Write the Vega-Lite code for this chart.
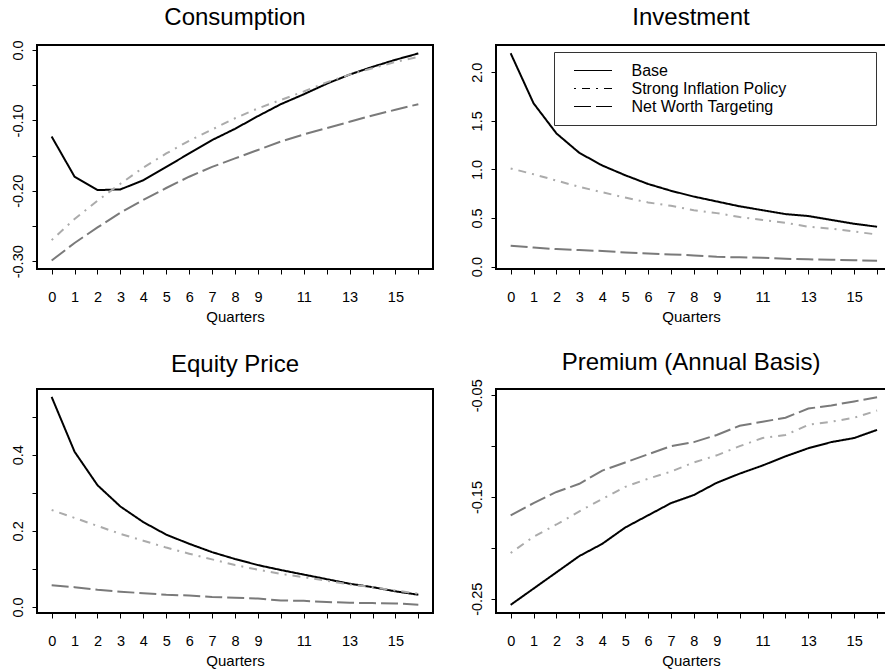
{
  "$schema": "https://vega.github.io/schema/vega-lite/v6.json",
  "padding": {"left": 8, "top": 5, "right": 0, "bottom": 0},
  "background": "white",
  "datasets": {
    "consumption": [
      {"q":0,"s":"Base","v":-0.123},{"q":1,"s":"Base","v":-0.180},{"q":2,"s":"Base","v":-0.199},{"q":3,"s":"Base","v":-0.198},{"q":4,"s":"Base","v":-0.185},{"q":5,"s":"Base","v":-0.166},{"q":6,"s":"Base","v":-0.147},{"q":7,"s":"Base","v":-0.128},{"q":8,"s":"Base","v":-0.112},{"q":9,"s":"Base","v":-0.094},{"q":10,"s":"Base","v":-0.077},{"q":11,"s":"Base","v":-0.063},{"q":12,"s":"Base","v":-0.048},{"q":13,"s":"Base","v":-0.035},{"q":14,"s":"Base","v":-0.024},{"q":15,"s":"Base","v":-0.014},{"q":16,"s":"Base","v":-0.005},
      {"q":0,"s":"Strong Inflation Policy","v":-0.270},{"q":1,"s":"Strong Inflation Policy","v":-0.240},{"q":2,"s":"Strong Inflation Policy","v":-0.214},{"q":3,"s":"Strong Inflation Policy","v":-0.190},{"q":4,"s":"Strong Inflation Policy","v":-0.167},{"q":5,"s":"Strong Inflation Policy","v":-0.147},{"q":6,"s":"Strong Inflation Policy","v":-0.129},{"q":7,"s":"Strong Inflation Policy","v":-0.113},{"q":8,"s":"Strong Inflation Policy","v":-0.097},{"q":9,"s":"Strong Inflation Policy","v":-0.083},{"q":10,"s":"Strong Inflation Policy","v":-0.071},{"q":11,"s":"Strong Inflation Policy","v":-0.059},{"q":12,"s":"Strong Inflation Policy","v":-0.046},{"q":13,"s":"Strong Inflation Policy","v":-0.035},{"q":14,"s":"Strong Inflation Policy","v":-0.026},{"q":15,"s":"Strong Inflation Policy","v":-0.017},{"q":16,"s":"Strong Inflation Policy","v":-0.010},
      {"q":0,"s":"Net Worth Targeting","v":-0.299},{"q":1,"s":"Net Worth Targeting","v":-0.274},{"q":2,"s":"Net Worth Targeting","v":-0.252},{"q":3,"s":"Net Worth Targeting","v":-0.231},{"q":4,"s":"Net Worth Targeting","v":-0.213},{"q":5,"s":"Net Worth Targeting","v":-0.196},{"q":6,"s":"Net Worth Targeting","v":-0.180},{"q":7,"s":"Net Worth Targeting","v":-0.166},{"q":8,"s":"Net Worth Targeting","v":-0.154},{"q":9,"s":"Net Worth Targeting","v":-0.142},{"q":10,"s":"Net Worth Targeting","v":-0.130},{"q":11,"s":"Net Worth Targeting","v":-0.120},{"q":12,"s":"Net Worth Targeting","v":-0.111},{"q":13,"s":"Net Worth Targeting","v":-0.102},{"q":14,"s":"Net Worth Targeting","v":-0.093},{"q":15,"s":"Net Worth Targeting","v":-0.085},{"q":16,"s":"Net Worth Targeting","v":-0.077}
    ],
    "investment": [
      {"q":0,"s":"Base","v":2.195},{"q":1,"s":"Base","v":1.68},{"q":2,"s":"Base","v":1.37},{"q":3,"s":"Base","v":1.17},{"q":4,"s":"Base","v":1.04},{"q":5,"s":"Base","v":0.94},{"q":6,"s":"Base","v":0.85},{"q":7,"s":"Base","v":0.78},{"q":8,"s":"Base","v":0.72},{"q":9,"s":"Base","v":0.67},{"q":10,"s":"Base","v":0.62},{"q":11,"s":"Base","v":0.58},{"q":12,"s":"Base","v":0.54},{"q":13,"s":"Base","v":0.52},{"q":14,"s":"Base","v":0.48},{"q":15,"s":"Base","v":0.44},{"q":16,"s":"Base","v":0.41},
      {"q":0,"s":"Strong Inflation Policy","v":1.01},{"q":1,"s":"Strong Inflation Policy","v":0.95},{"q":2,"s":"Strong Inflation Policy","v":0.885},{"q":3,"s":"Strong Inflation Policy","v":0.82},{"q":4,"s":"Strong Inflation Policy","v":0.765},{"q":5,"s":"Strong Inflation Policy","v":0.71},{"q":6,"s":"Strong Inflation Policy","v":0.66},{"q":7,"s":"Strong Inflation Policy","v":0.625},{"q":8,"s":"Strong Inflation Policy","v":0.58},{"q":9,"s":"Strong Inflation Policy","v":0.55},{"q":10,"s":"Strong Inflation Policy","v":0.51},{"q":11,"s":"Strong Inflation Policy","v":0.48},{"q":12,"s":"Strong Inflation Policy","v":0.45},{"q":13,"s":"Strong Inflation Policy","v":0.41},{"q":14,"s":"Strong Inflation Policy","v":0.39},{"q":15,"s":"Strong Inflation Policy","v":0.36},{"q":16,"s":"Strong Inflation Policy","v":0.33},
      {"q":0,"s":"Net Worth Targeting","v":0.215},{"q":1,"s":"Net Worth Targeting","v":0.195},{"q":2,"s":"Net Worth Targeting","v":0.18},{"q":3,"s":"Net Worth Targeting","v":0.17},{"q":4,"s":"Net Worth Targeting","v":0.16},{"q":5,"s":"Net Worth Targeting","v":0.145},{"q":6,"s":"Net Worth Targeting","v":0.135},{"q":7,"s":"Net Worth Targeting","v":0.125},{"q":8,"s":"Net Worth Targeting","v":0.115},{"q":9,"s":"Net Worth Targeting","v":0.10},{"q":10,"s":"Net Worth Targeting","v":0.095},{"q":11,"s":"Net Worth Targeting","v":0.09},{"q":12,"s":"Net Worth Targeting","v":0.08},{"q":13,"s":"Net Worth Targeting","v":0.075},{"q":14,"s":"Net Worth Targeting","v":0.07},{"q":15,"s":"Net Worth Targeting","v":0.065},{"q":16,"s":"Net Worth Targeting","v":0.06}
    ],
    "equity": [
      {"q":0,"s":"Base","v":0.552},{"q":1,"s":"Base","v":0.408},{"q":2,"s":"Base","v":0.32},{"q":3,"s":"Base","v":0.264},{"q":4,"s":"Base","v":0.223},{"q":5,"s":"Base","v":0.19},{"q":6,"s":"Base","v":0.166},{"q":7,"s":"Base","v":0.144},{"q":8,"s":"Base","v":0.126},{"q":9,"s":"Base","v":0.11},{"q":10,"s":"Base","v":0.097},{"q":11,"s":"Base","v":0.085},{"q":12,"s":"Base","v":0.073},{"q":13,"s":"Base","v":0.061},{"q":14,"s":"Base","v":0.052},{"q":15,"s":"Base","v":0.041},{"q":16,"s":"Base","v":0.032},
      {"q":0,"s":"Strong Inflation Policy","v":0.255},{"q":1,"s":"Strong Inflation Policy","v":0.234},{"q":2,"s":"Strong Inflation Policy","v":0.213},{"q":3,"s":"Strong Inflation Policy","v":0.192},{"q":4,"s":"Strong Inflation Policy","v":0.174},{"q":5,"s":"Strong Inflation Policy","v":0.156},{"q":6,"s":"Strong Inflation Policy","v":0.14},{"q":7,"s":"Strong Inflation Policy","v":0.125},{"q":8,"s":"Strong Inflation Policy","v":0.11},{"q":9,"s":"Strong Inflation Policy","v":0.098},{"q":10,"s":"Strong Inflation Policy","v":0.087},{"q":11,"s":"Strong Inflation Policy","v":0.078},{"q":12,"s":"Strong Inflation Policy","v":0.069},{"q":13,"s":"Strong Inflation Policy","v":0.059},{"q":14,"s":"Strong Inflation Policy","v":0.052},{"q":15,"s":"Strong Inflation Policy","v":0.043},{"q":16,"s":"Strong Inflation Policy","v":0.035},
      {"q":0,"s":"Net Worth Targeting","v":0.057},{"q":1,"s":"Net Worth Targeting","v":0.052},{"q":2,"s":"Net Worth Targeting","v":0.045},{"q":3,"s":"Net Worth Targeting","v":0.04},{"q":4,"s":"Net Worth Targeting","v":0.036},{"q":5,"s":"Net Worth Targeting","v":0.032},{"q":6,"s":"Net Worth Targeting","v":0.03},{"q":7,"s":"Net Worth Targeting","v":0.026},{"q":8,"s":"Net Worth Targeting","v":0.024},{"q":9,"s":"Net Worth Targeting","v":0.022},{"q":10,"s":"Net Worth Targeting","v":0.017},{"q":11,"s":"Net Worth Targeting","v":0.016},{"q":12,"s":"Net Worth Targeting","v":0.013},{"q":13,"s":"Net Worth Targeting","v":0.011},{"q":14,"s":"Net Worth Targeting","v":0.01},{"q":15,"s":"Net Worth Targeting","v":0.009},{"q":16,"s":"Net Worth Targeting","v":0.006}
    ],
    "premium": [
      {"q":0,"s":"Base","v":-0.256},{"q":1,"s":"Base","v":-0.240},{"q":2,"s":"Base","v":-0.224},{"q":3,"s":"Base","v":-0.208},{"q":4,"s":"Base","v":-0.196},{"q":5,"s":"Base","v":-0.180},{"q":6,"s":"Base","v":-0.168},{"q":7,"s":"Base","v":-0.156},{"q":8,"s":"Base","v":-0.148},{"q":9,"s":"Base","v":-0.136},{"q":10,"s":"Base","v":-0.127},{"q":11,"s":"Base","v":-0.119},{"q":12,"s":"Base","v":-0.110},{"q":13,"s":"Base","v":-0.102},{"q":14,"s":"Base","v":-0.096},{"q":15,"s":"Base","v":-0.092},{"q":16,"s":"Base","v":-0.084},
      {"q":0,"s":"Strong Inflation Policy","v":-0.205},{"q":1,"s":"Strong Inflation Policy","v":-0.189},{"q":2,"s":"Strong Inflation Policy","v":-0.177},{"q":3,"s":"Strong Inflation Policy","v":-0.164},{"q":4,"s":"Strong Inflation Policy","v":-0.152},{"q":5,"s":"Strong Inflation Policy","v":-0.140},{"q":6,"s":"Strong Inflation Policy","v":-0.132},{"q":7,"s":"Strong Inflation Policy","v":-0.125},{"q":8,"s":"Strong Inflation Policy","v":-0.116},{"q":9,"s":"Strong Inflation Policy","v":-0.109},{"q":10,"s":"Strong Inflation Policy","v":-0.100},{"q":11,"s":"Strong Inflation Policy","v":-0.092},{"q":12,"s":"Strong Inflation Policy","v":-0.089},{"q":13,"s":"Strong Inflation Policy","v":-0.079},{"q":14,"s":"Strong Inflation Policy","v":-0.076},{"q":15,"s":"Strong Inflation Policy","v":-0.072},{"q":16,"s":"Strong Inflation Policy","v":-0.065},
      {"q":0,"s":"Net Worth Targeting","v":-0.168},{"q":1,"s":"Net Worth Targeting","v":-0.156},{"q":2,"s":"Net Worth Targeting","v":-0.145},{"q":3,"s":"Net Worth Targeting","v":-0.137},{"q":4,"s":"Net Worth Targeting","v":-0.124},{"q":5,"s":"Net Worth Targeting","v":-0.116},{"q":6,"s":"Net Worth Targeting","v":-0.108},{"q":7,"s":"Net Worth Targeting","v":-0.100},{"q":8,"s":"Net Worth Targeting","v":-0.096},{"q":9,"s":"Net Worth Targeting","v":-0.089},{"q":10,"s":"Net Worth Targeting","v":-0.080},{"q":11,"s":"Net Worth Targeting","v":-0.076},{"q":12,"s":"Net Worth Targeting","v":-0.072},{"q":13,"s":"Net Worth Targeting","v":-0.063},{"q":14,"s":"Net Worth Targeting","v":-0.060},{"q":15,"s":"Net Worth Targeting","v":-0.056},{"q":16,"s":"Net Worth Targeting","v":-0.052}
    ]
  },
  "columns": 2,
  "bounds": "flush",
  "spacing": {"row": 120, "column": 63},
  "concat": [
    {
      "title": {"text": "Consumption", "offset": 9.5},
      "width": 396, "height": 224,
      "data": {"name": "consumption"},
      "mark": {"type": "line", "strokeWidth": 2, "color": "black"},
      "encoding": {
        "x": {"field": "q", "type": "quantitative", "title": "Quarters", "scale": {"domain": [-0.64, 16.64], "nice": false, "zero": false},
              "axis": {"values": [0,1,2,3,4,5,6,7,8,9,10,11,12,13,14,15,16], "labelExpr": "datum.value == 10 || datum.value == 12 || datum.value == 14 || datum.value == 16 ? '' : datum.label"}},
        "y": {"field": "v", "type": "quantitative", "title": null, "scale": {"domain": [-0.311, 0.007], "nice": false, "zero": false},
              "axis": {"values": [0, -0.05, -0.1, -0.15, -0.2, -0.25, -0.3], "labelExpr": "datum.value == 0 ? '0.0' : datum.value == -0.1 ? '-0.10' : datum.value == -0.2 ? '-0.20' : datum.value == -0.3 ? '-0.30' : ''"}},
        "color": {"field": "s", "type": "nominal", "legend": null, "scale": {"domain": ["Base", "Net Worth Targeting", "Strong Inflation Policy"], "range": ["#000000", "#7a7a7a", "#ababab"]}},
        "strokeDash": {"field": "s", "type": "nominal", "legend": {"title": "\u00a0", "titleOrient": "right", "titlePadding": 80, "orient": "none", "legendX": 517, "legendY": 7}, "scale": {"domain": ["Base", "Strong Inflation Policy", "Net Worth Targeting"], "range": [[1, 0], [2, 6, 8, 6], [17, 5]]}}
      }
    },
    {
      "title": {"text": "Investment", "offset": 15},
      "width": 390, "height": 224,
      "data": {"name": "investment"},
      "mark": {"type": "line", "strokeWidth": 2, "color": "black"},
      "encoding": {
        "x": {"field": "q", "type": "quantitative", "title": "Quarters", "scale": {"domain": [-0.64, 16.39], "nice": false, "zero": false},
              "axis": {"values": [0,1,2,3,4,5,6,7,8,9,10,11,12,13,14,15,16], "labelExpr": "datum.value == 10 || datum.value == 12 || datum.value == 14 || datum.value == 16 ? '' : datum.label"}},
        "y": {"field": "v", "type": "quantitative", "title": null, "scale": {"domain": [-0.025, 2.28], "nice": false, "zero": false},
              "axis": {"values": [0, 0.5, 1, 1.5, 2], "labelExpr": "format(datum.value, '.1f')"}},
        "color": {"field": "s", "type": "nominal", "legend": null, "scale": {"domain": ["Base", "Net Worth Targeting", "Strong Inflation Policy"], "range": ["#000000", "#7a7a7a", "#ababab"]}},
        "strokeDash": {"field": "s", "type": "nominal", "legend": {"title": "\u00a0", "titleOrient": "right", "titlePadding": 80, "orient": "none", "legendX": 517, "legendY": 7}, "scale": {"domain": ["Base", "Strong Inflation Policy", "Net Worth Targeting"], "range": [[1, 0], [2, 6, 8, 6], [17, 5]]}}
      }
    },
    {
      "title": {"text": "Equity Price", "offset": 12.5},
      "width": 396, "height": 224,
      "data": {"name": "equity"},
      "mark": {"type": "line", "strokeWidth": 2, "color": "black"},
      "encoding": {
        "x": {"field": "q", "type": "quantitative", "title": "Quarters", "scale": {"domain": [-0.64, 16.64], "nice": false, "zero": false},
              "axis": {"values": [0,1,2,3,4,5,6,7,8,9,10,11,12,13,14,15,16], "labelExpr": "datum.value == 10 || datum.value == 12 || datum.value == 14 || datum.value == 16 ? '' : datum.label"}},
        "y": {"field": "v", "type": "quantitative", "title": null, "scale": {"domain": [-0.016, 0.573], "nice": false, "zero": false},
              "axis": {"values": [0, 0.1, 0.2, 0.3, 0.4, 0.5], "labelExpr": "datum.value == 0 ? '0.0' : datum.value == 0.2 ? '0.2' : datum.value == 0.4 ? '0.4' : ''"}},
        "color": {"field": "s", "type": "nominal", "legend": null, "scale": {"domain": ["Base", "Net Worth Targeting", "Strong Inflation Policy"], "range": ["#000000", "#7a7a7a", "#ababab"]}},
        "strokeDash": {"field": "s", "type": "nominal", "legend": {"title": "\u00a0", "titleOrient": "right", "titlePadding": 80, "orient": "none", "legendX": 517, "legendY": 7}, "scale": {"domain": ["Base", "Strong Inflation Policy", "Net Worth Targeting"], "range": [[1, 0], [2, 6, 8, 6], [17, 5]]}}
      }
    },
    {
      "title": {"text": "Premium (Annual Basis)", "offset": 3.5},
      "width": 390, "height": 224,
      "data": {"name": "premium"},
      "mark": {"type": "line", "strokeWidth": 2, "color": "black"},
      "encoding": {
        "x": {"field": "q", "type": "quantitative", "title": "Quarters", "scale": {"domain": [-0.64, 16.39], "nice": false, "zero": false},
              "axis": {"values": [0,1,2,3,4,5,6,7,8,9,10,11,12,13,14,15,16], "labelExpr": "datum.value == 10 || datum.value == 12 || datum.value == 14 || datum.value == 16 ? '' : datum.label"}},
        "y": {"field": "v", "type": "quantitative", "title": null, "scale": {"domain": [-0.264, -0.0438], "nice": false, "zero": false},
              "axis": {"values": [-0.05, -0.1, -0.15, -0.2, -0.25], "labelExpr": "datum.value == -0.05 ? '-0.05' : datum.value == -0.15 ? '-0.15' : datum.value == -0.25 ? '-0.25' : ''"}},
        "color": {"field": "s", "type": "nominal", "legend": null, "scale": {"domain": ["Base", "Net Worth Targeting", "Strong Inflation Policy"], "range": ["#000000", "#7a7a7a", "#ababab"]}},
        "strokeDash": {"field": "s", "type": "nominal", "legend": {"title": "\u00a0", "titleOrient": "right", "titlePadding": 80, "orient": "none", "legendX": 517, "legendY": 7}, "scale": {"domain": ["Base", "Strong Inflation Policy", "Net Worth Targeting"], "range": [[1, 0], [2, 6, 8, 6], [17, 5]]}}
      }
    }
  ],
  "config": {
    "font": "Liberation Sans",
    "view": {"stroke": "black", "strokeWidth": 2},
    "title": {"font": "Liberation Sans", "fontSize": 24, "fontWeight": "normal", "color": "black", "anchor": "middle", "frame": "group", "offset": 14},
    "axis": {"domain": false, "grid": false, "ticks": true, "tickColor": "black", "tickSize": 5, "tickWidth": 1,
             "labelFont": "Liberation Sans", "labelFontSize": 14.5, "labelColor": "black",
             "titleFont": "Liberation Sans", "titleFontSize": 15, "titleFontWeight": "normal", "titleColor": "black"},
    "axisX": {"labelPadding": 16, "titlePadding": 6, "labelOverlap": false, "labelFlush": false},
    "axisY": {"labelAngle": 270, "labelAlign": "center", "labelBaseline": "bottom", "labelPadding": 7, "labelOverlap": false},
    "legend": {"strokeColor": "#333333", "strokeWidth": 1, "padding": 10, "fillColor": "white",
               "symbolType": "M-2.375,0H2.375", "symbolSize": 256, "symbolStrokeWidth": 1, "symbolStrokeColor": "black", "symbolOffset": 20.5,
               "titleFontSize": 15, "titleFont": "Liberation Sans",
               "labelFont": "Liberation Sans", "labelFontSize": 16, "labelColor": "black", "labelOffset": 30, "rowPadding": 1}
  }
}
